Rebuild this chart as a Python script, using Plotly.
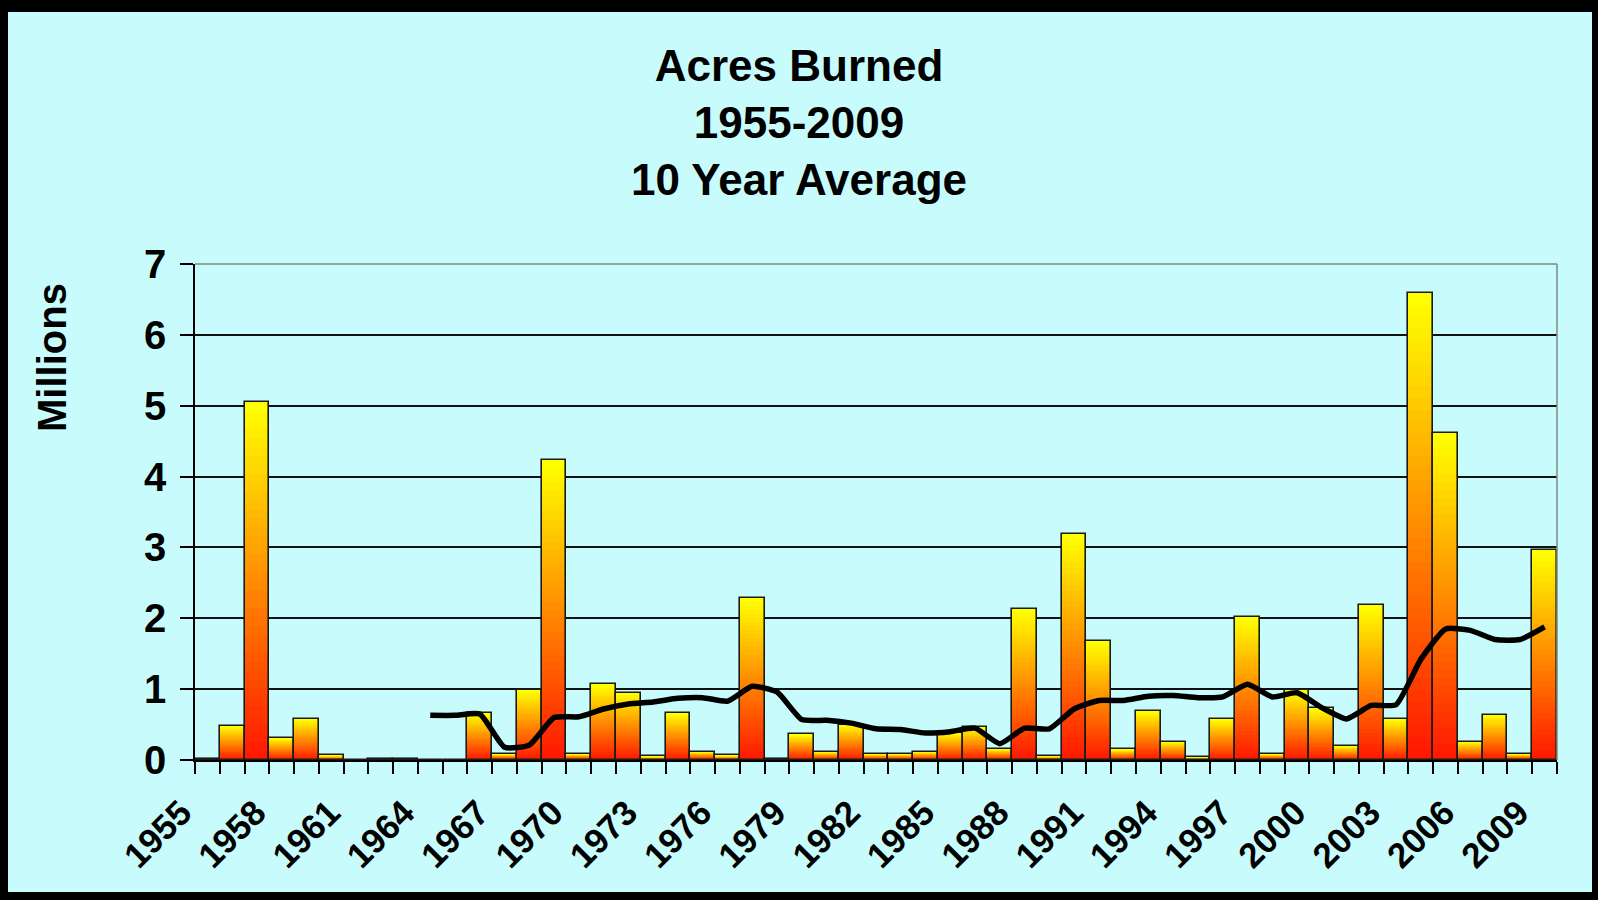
import plotly.graph_objects as go

# ---------------- data ----------------
years = [1955, 1956, 1957, 1958, 1959, 1960, 1961, 1962, 1963, 1964,
         1965, 1966, 1967, 1968, 1969, 1970, 1971, 1972, 1973, 1974,
         1975, 1976, 1977, 1978, 1979, 1980, 1981, 1982, 1983, 1984,
         1985, 1986, 1987, 1988, 1989, 1990, 1991, 1992, 1993, 1994,
         1995, 1996, 1997, 1998, 1999, 2000, 2001, 2002, 2003, 2004,
         2005, 2006, 2007, 2008, 2009]
acres_millions = [0.02, 0.48, 5.05, 0.31, 0.58, 0.07, 0.0, 0.015, 0.015, 0.0,
                  0.0, 0.66, 0.09, 0.99, 4.24, 0.09, 1.07, 0.95, 0.05, 0.66,
                  0.12, 0.07, 2.29, 0.01, 0.36, 0.12, 0.50, 0.09, 0.09, 0.12,
                  0.38, 0.46, 0.16, 2.13, 0.06, 3.19, 1.68, 0.15, 0.69, 0.26,
                  0.04, 0.58, 2.02, 0.09, 0.99, 0.73, 0.20, 2.19, 0.58, 6.59,
                  4.62, 0.26, 0.64, 0.09, 2.96]
avg_years = [1964, 1965, 1966, 1967, 1968, 1969, 1970, 1971, 1972, 1973,
             1974, 1975, 1976, 1977, 1978, 1979, 1980, 1981, 1982, 1983,
             1984, 1985, 1986, 1987, 1988, 1989, 1990, 1991, 1992, 1993,
             1994, 1995, 1996, 1997, 1998, 1999, 2000, 2001, 2002, 2003,
             2004, 2005, 2006, 2007, 2008, 2009]
avg_millions = [0.63, 0.63, 0.65, 0.18, 0.21, 0.60, 0.61, 0.72, 0.79, 0.82,
                0.87, 0.88, 0.83, 1.04, 0.96, 0.57, 0.56, 0.52, 0.44, 0.43,
                0.38, 0.40, 0.45, 0.23, 0.45, 0.44, 0.72, 0.84, 0.84, 0.90,
                0.91, 0.88, 0.89, 1.07, 0.89, 0.95, 0.74, 0.58, 0.77, 0.78,
                1.42, 1.85, 1.83, 1.70, 1.70, 1.88]
tick_years = [1955, 1958, 1961, 1964, 1967, 1970, 1973, 1976, 1979, 1982,
              1985, 1988, 1991, 1994, 1997, 2000, 2003, 2006, 2009]
y_ticks = [0, 1, 2, 3, 4, 5, 6, 7]

title_text = "Acres Burned<br>1955-2009<br>10 Year Average"
y_label = "Millions"

# ---------------- style ----------------
W, H = 1598, 900
ML, MR, MT, MB = 195, 41, 264, 140
PW, PH = W - ML - MR, H - MT - MB
FONT = "Liberation Sans, Arial, Helvetica, sans-serif"
CYAN = "#C8FCFC"
PLOT_BG = "#FFFF99"
N_SEG = 40


def px_to_paper_x(px):
    return (px - ML) / PW


def px_to_paper_y(py):
    return (H - MB - py) / PH


fig = go.Figure()

# gradient bars: each layer spans from its start fraction up to the top
for k in range(N_SEG):
    t = k / (N_SEG - 1)
    g = int(round(25 + 230 * t))
    color = f"rgb(255,{g},0)"
    frac = k / N_SEG
    fig.add_trace(go.Bar(
        x=years,
        y=[v * (1 - frac) for v in acres_millions],
        base=[v * frac for v in acres_millions],
        width=1.0,
        marker=dict(color=color, line=dict(width=0)),
        showlegend=False, hoverinfo="skip",
    ))

# bar outlines
fig.add_trace(go.Bar(
    x=years, y=acres_millions, width=1.0,
    marker=dict(color="rgba(0,0,0,0)", line=dict(color="#1a1a1a", width=1.6)),
    showlegend=False, name="Acres",
))

# 10 year average line
fig.add_trace(go.Scatter(
    x=avg_years, y=avg_millions, mode="lines", xaxis="x2", yaxis="y",
    line=dict(color="#000000", width=5.5, shape="spline", smoothing=0.5),
    showlegend=False, name="10 Year Average",
))

x_range = [years[0] - 0.5, years[-1] + 0.5]
boundaries = [yv - 0.5 for yv in years] + [years[-1] + 0.5]

fig.update_layout(
    width=W, height=H,
    margin=dict(l=ML, r=MR, t=MT, b=MB, pad=0),
    paper_bgcolor="#000000",
    plot_bgcolor=PLOT_BG,
    barmode="overlay",
    bargap=0,
    font=dict(family=FONT, color="#000000"),
    title=dict(
        text=title_text, x=0.5, xref="container", xanchor="center",
        y=1 - 81 / H, yref="container", yanchor="top",
        font=dict(family=FONT, size=44, weight="bold", color="#000000"),
    ),
    xaxis=dict(
        range=x_range, tickmode="array", tickvals=boundaries,
        showticklabels=False, ticks="outside", ticklen=12, tickwidth=1.5,
        tickcolor="#000000", showline=True, linecolor="#000000", linewidth=1.5,
        showgrid=False, zeroline=False, fixedrange=True,
    ),
    xaxis2=dict(
        range=x_range, overlaying="x", anchor="y", side="bottom",
        tickmode="array", tickvals=tick_years,
        ticktext=[str(ty) for ty in tick_years], tickangle=-45,
        ticks="", showline=False, showgrid=False, zeroline=False,
        tickfont=dict(family=FONT, size=35, weight="bold", color="#000000"),
        ticklabelstandoff=24, ticklabelshift=-26, fixedrange=True,
    ),
    yaxis=dict(
        range=[0, 7], tickmode="array", tickvals=y_ticks,
        ticktext=[str(v) for v in y_ticks],
        ticks="outside", ticklen=13, tickwidth=1.5, tickcolor="#000000",
        showline=True, linecolor="#000000", linewidth=1.5,
        showgrid=True, gridcolor="#111111", gridwidth=1.5,
        zeroline=False, fixedrange=True,
        tickfont=dict(family=FONT, size=40, weight="bold", color="#000000"),
        ticklabelstandoff=6,
    ),
    shapes=[
        # cyan chart area inside the black frame
        dict(type="rect", xref="paper", yref="paper", layer="below",
             x0=px_to_paper_x(8), x1=px_to_paper_x(1592),
             y0=px_to_paper_y(892), y1=px_to_paper_y(12),
             fillcolor=CYAN, line=dict(width=0)),
        # grey plot-area border on top and right
        dict(type="line", xref="paper", yref="paper", layer="above",
             x0=0, x1=1, y0=1, y1=1, line=dict(color="#7f8a7f", width=1.5)),
        dict(type="line", xref="paper", yref="paper", layer="above",
             x0=1, x1=1, y0=0, y1=1, line=dict(color="#7f8a7f", width=1.5)),
    ],
    annotations=[
        dict(text=y_label, xref="paper", yref="paper",
             x=px_to_paper_x(52), y=px_to_paper_y(358),
             xanchor="center", yanchor="middle", textangle=-90, showarrow=False,
             font=dict(family=FONT, size=40, weight="bold", color="#000000")),
    ],
)

fig.write_html(
    "out.html",
    config={"displayModeBar": False},
    post_script="document.body.style.margin='0';document.body.style.overflow='hidden';",
)
